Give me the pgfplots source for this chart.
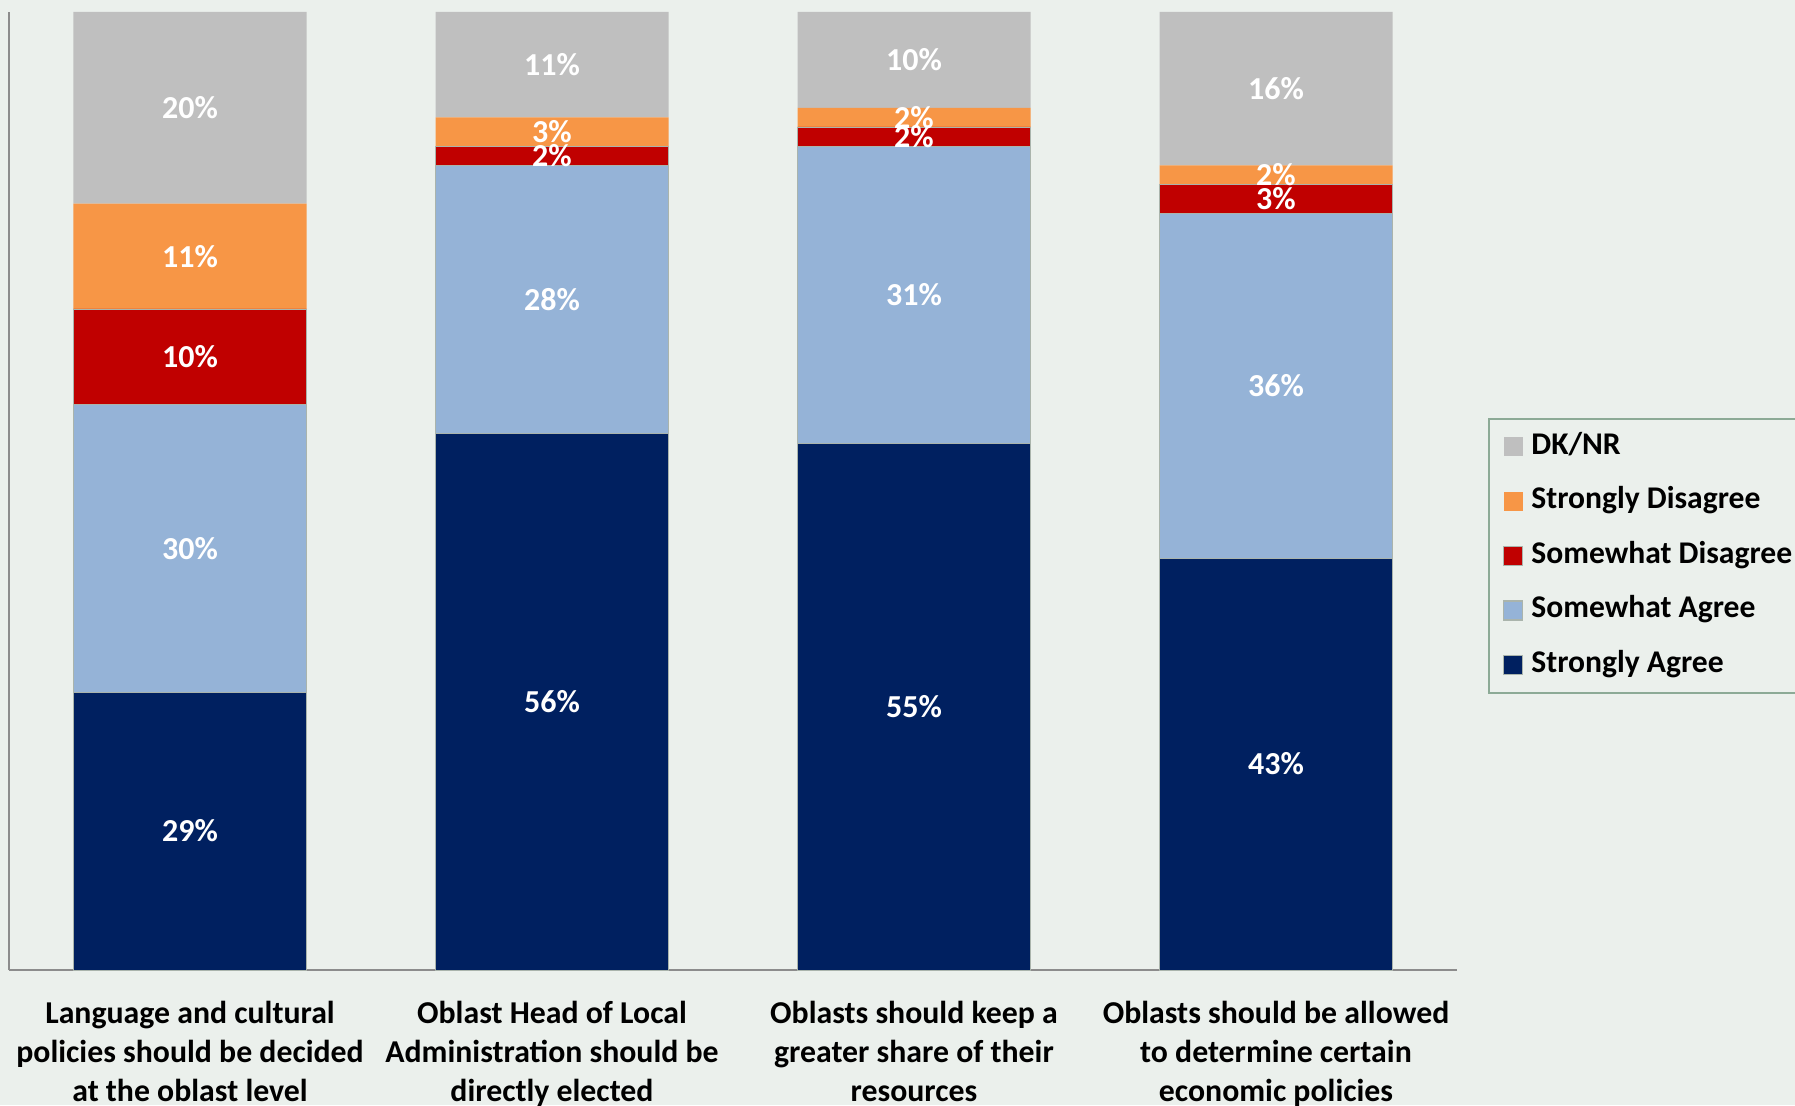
\documentclass[border=0pt]{standalone}
\usepackage{pgfplots}
\pgfplotsset{compat=1.18}
\usepackage{fontspec}
\setmainfont{Carlito}
\definecolor{bg}{RGB}{235,240,236}
\definecolor{dknr}{RGB}{191,191,191}
\definecolor{sdis}{RGB}{247,150,70}
\definecolor{wdis}{RGB}{192,0,0}
\definecolor{wagr}{RGB}{149,179,215}
\definecolor{sagr}{RGB}{0,32,96}
\definecolor{edge}{RGB}{170,180,172}
\definecolor{axisgray}{RGB}{140,140,140}
\definecolor{legborder}{RGB}{140,170,150}
\begin{document}
\begin{tikzpicture}
\useasboundingbox (0,0) rectangle (897.5pt,552.5pt);
\clip (0,0) rectangle (897.5pt,552.5pt);
\fill[bg] (0,0) rectangle (897.5pt,552.5pt);
\begin{axis}[
  at={(4.5pt,67.5pt)}, anchor=south west,
  scale only axis, width=724pt, height=479pt,
  ybar stacked, bar width=116.5pt,
  xmin=-0.5, xmax=3.5, ymin=0, ymax=100,
  axis x line=bottom, axis y line=left,
  axis line style={-, draw=axisgray, line width=0.8pt},
  ytick=\empty,
  xtick={0,1,2,3}, major tick length=0pt,
  xticklabels={{Language and cultural\\policies should be decided\\at the oblast level},
               {Oblast Head of Local\\Administration should be\\directly elected},
               {Oblasts should keep a\\greater share of their\\resources},
               {Oblasts should be allowed\\to determine certain\\economic policies}},
  xticklabel style={align=center, font=\bfseries\fontsize{15.9}{19.5}\selectfont, yshift=-12pt},
  point meta=explicit symbolic,
  nodes near coords={\pgfplotspointmeta\%},
  every node near coord/.append style={font=\bfseries\fontsize{16}{19}\selectfont, text=white, anchor=center},
  legend style={
    at={(1.0214,0.576)}, anchor=north west,
    draw=legborder, fill=bg, line width=0.8pt,
    font=\bfseries\fontsize{15.8}{18}\selectfont,
    inner xsep=7pt, inner ysep=6.75pt,
    row sep=12.75pt,
    nodes={inner sep=0pt, text height=11pt, text depth=3.5pt},
    /tikz/every odd column/.append style={column sep=4pt},
  },
  legend cell align=left,
  legend image code/.code={\fill[#1] (0pt,-4.75pt) rectangle (9.5pt,4.75pt);},
  reverse legend,
]
\addplot[fill=sagr, draw=edge] coordinates {(0,29) [29] (1,56) [56] (2,55) [55] (3,43) [43]};
\addplot[fill=wagr, draw=edge] coordinates {(0,30) [30] (1,28) [28] (2,31) [31] (3,36) [36]};
\addplot[fill=wdis, draw=edge] coordinates {(0,10) [10] (1,2) [2] (2,2) [2] (3,3) [3]};
\addplot[fill=sdis, draw=none] coordinates {(0,11) [11] (1,3) [3] (2,2) [2] (3,2) [2]};
\addplot[fill=dknr, draw=none] coordinates {(0,20) [20] (1,11) [11] (2,10) [10] (3,16) [16]};
\legend{Strongly Agree, Somewhat Agree, Somewhat Disagree, Strongly Disagree, DK/NR}
\end{axis}
\end{tikzpicture}
\end{document}
